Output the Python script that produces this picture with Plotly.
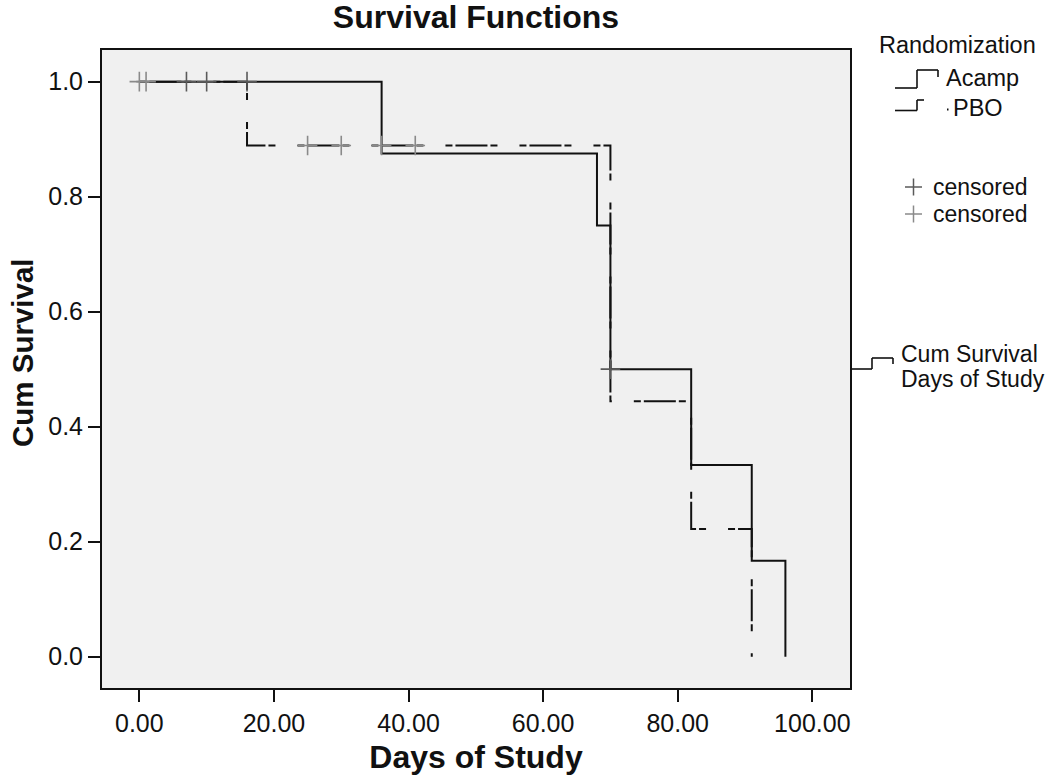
import plotly.graph_objects as go

# ---------------- data ----------------
acamp_days = [0, 36, 68, 70, 82, 91, 96]
acamp_surv = [1.0, 0.875, 0.75, 0.5, 0.3333, 0.1667, 0.0]
pbo_days = [0, 16, 70, 82, 91]
pbo_surv = [1.0, 0.8889, 0.4444, 0.2222, 0.0]

acamp_cens_days = [7, 10, 16, 70]
acamp_cens_surv = [1.0, 1.0, 1.0, 0.5]
pbo_cens_days = [0, 1, 25, 30, 36, 41]
pbo_cens_surv = [1.0, 1.0, 0.8889, 0.8889, 0.8889, 0.8889]

x_ticks = [0, 20, 40, 60, 80, 100]
x_ticklabels = ["0.00", "20.00", "40.00", "60.00", "80.00", "100.00"]
y_ticks = [0.0, 0.2, 0.4, 0.6, 0.8, 1.0]
y_ticklabels = ["0.0", "0.2", "0.4", "0.6", "0.8", "1.0"]

FONT = "Liberation Sans, Arial, sans-serif"
W, H = 1050, 776
# plot area in screenshot pixels
L, R, T, B = 102, 850, 50, 688


def px(x):
    return (x - L) / (R - L)


def py(y):
    return (B - y) / (B - T)


fig = go.Figure()

fig.add_trace(go.Scatter(
    x=pbo_days, y=pbo_surv, mode="lines", line_shape="hv",
    line=dict(color="#111111", width=2, dash="7px,3px,32px,3px,7px,22px"),
    name="PBO", showlegend=False))
fig.add_trace(go.Scatter(
    x=acamp_days, y=acamp_surv, mode="lines", line_shape="hv",
    line=dict(color="#111111", width=2),
    name="Acamp", showlegend=False))
fig.add_trace(go.Scatter(
    x=pbo_cens_days, y=pbo_cens_surv, mode="markers",
    marker=dict(symbol="cross-thin", size=14, line=dict(color="#8a8a8a", width=1.6)),
    name="censored", showlegend=False))
fig.add_trace(go.Scatter(
    x=acamp_cens_days, y=acamp_cens_surv, mode="markers",
    marker=dict(symbol="cross-thin", size=14, line=dict(color="#5a5a5a", width=1.6)),
    name="censored", showlegend=False))

shapes = []
annotations = []


def seg(x0, y0, x1, y1, color="#111111", width=1.6):
    shapes.append(dict(type="line", xref="paper", yref="paper",
                       x0=px(x0), y0=py(y0), x1=px(x1), y1=py(y1),
                       line=dict(color=color, width=width)))


def text(x, y, s, size=23.5):
    annotations.append(dict(xref="paper", yref="paper", x=px(x), y=py(y),
                            xanchor="left", yanchor="middle", text=s,
                            showarrow=False,
                            font=dict(family=FONT, size=size, color="#111111")))


# Legend: Randomization
text(877, 45, "Randomization")
# Acamp icon
seg(895, 88, 917, 88)
seg(917, 88, 917, 70)
seg(917, 70, 938, 70)
seg(938, 70, 938, 77)
text(944, 78, "Acamp")
# PBO icon
seg(895, 110.5, 917, 110.5)
seg(917, 110.5, 917, 100)
seg(917, 100, 924, 100)
seg(947, 109.5, 948.5, 109.5, width=2)
text(951, 108, "PBO")
# censored icons
for yy, col in [(187, "#5a5a5a"), (214, "#8a8a8a")]:
    seg(905, yy, 922, yy, color=col, width=1.5)
    seg(913.5, yy - 8.5, 913.5, yy + 8.5, color=col, width=1.5)
    text(931, yy, "censored", size=23)
# Cum Survival / Days of Study icon
seg(850, 369, 872, 369)
seg(872, 369, 872, 358)
seg(872, 358, 893, 358)
seg(893, 358, 893, 364)
text(899, 354, "Cum Survival", size=23)
text(899, 379, "Days of Study", size=23)

# y-axis title (placed as in reference, slightly above axis centre)
annotations.append(dict(xref="paper", yref="paper", x=px(22), y=py(353),
                        xanchor="center", yanchor="middle", textangle=-90,
                        text="Cum Survival", showarrow=False,
                        font=dict(family=FONT, size=29.5, weight="bold", color="#111111")))

fig.update_layout(
    width=W, height=H,
    margin=dict(l=L, r=W - R, t=T, b=H - B, autoexpand=False),
    paper_bgcolor="white",
    plot_bgcolor="#f0f0f0",
    font=dict(family=FONT, color="#111111"),
    title=dict(text="Survival Functions", x=px(476), xref="paper", xanchor="center",
               y=1 - 17 / H, yref="container", yanchor="middle",
               font=dict(family=FONT, size=32, weight="bold", color="#111111")),
    shapes=shapes,
    annotations=annotations,
    showlegend=False,
)

fig.update_xaxes(
    range=[-5.55, 105.6], tickmode="array", tickvals=x_ticks, ticktext=x_ticklabels,
    showgrid=False, zeroline=False,
    showline=True, mirror=True, linecolor="#111111", linewidth=2,
    ticks="outside", ticklen=12, tickwidth=2, tickcolor="#111111",
    tickfont=dict(family=FONT, size=25, color="#111111"),
    title=dict(text="Days of Study", standoff=10,
               font=dict(family=FONT, size=32, weight="bold", color="#111111")),
    automargin=False,
)
fig.update_yaxes(
    range=[-0.0544, 1.055], tickmode="array", tickvals=y_ticks, ticktext=y_ticklabels,
    showgrid=False, zeroline=False,
    showline=True, mirror=True, linecolor="#111111", linewidth=2,
    ticks="outside", ticklen=12, tickwidth=2, tickcolor="#111111",
    tickfont=dict(family=FONT, size=25, color="#111111"),
    automargin=False,
)

fig.write_html("out.html",
               config={"displayModeBar": False},
               post_script="document.body.style.margin='0';document.body.style.overflow='hidden';")
